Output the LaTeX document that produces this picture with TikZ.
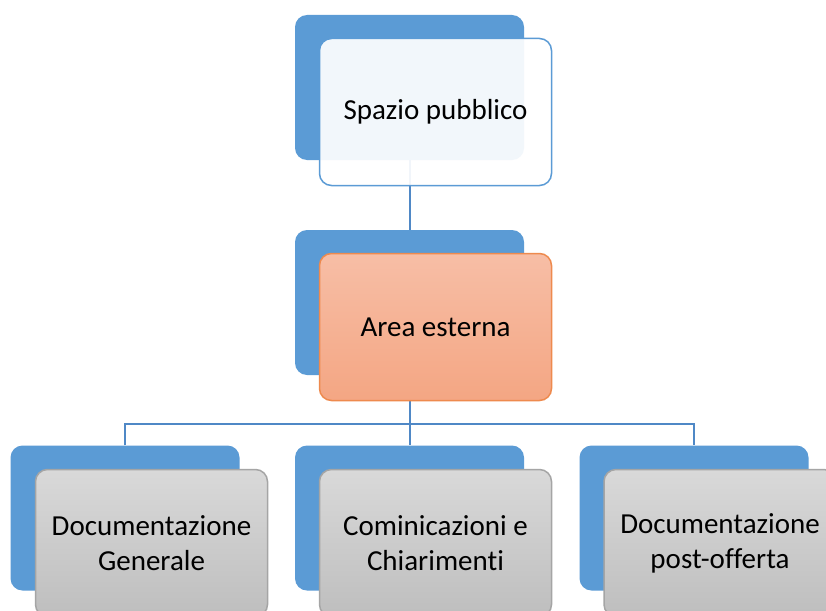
\documentclass[tikz,border=0pt]{standalone}
\usepackage{fontspec}
\setmainfont[Ligatures={NoCommon}]{Carlito}
\definecolor{accblue}{HTML}{5B9BD5}
\definecolor{linkblue}{HTML}{4F88C6}
\definecolor{orTop}{HTML}{F7BEA6}
\definecolor{orBot}{HTML}{F4A683}
\definecolor{orLine}{HTML}{EE8A4E}
\definecolor{grTop}{HTML}{D9D9D9}
\definecolor{grBot}{HTML}{BEBEBE}
\definecolor{grLine}{HTML}{A5A5A5}
\tikzset{
  backbox/.style={rectangle, rounded corners=12pt, fill=accblue, draw=none,
    minimum width=229pt, minimum height=145pt, inner sep=0pt},
  frontbox/.style={rectangle, rounded corners=12pt, line width=1.5pt,
    minimum width=232pt, minimum height=147pt, inner sep=0pt,
    align=center, font=\fontsize{29}{35}\selectfont},
  topbox/.style={frontbox, draw=accblue, fill=white, fill opacity=0.92, text opacity=1},
  midbox/.style={frontbox, draw=orLine, top color=orTop, bottom color=orBot},
  leafbox/.style={frontbox, draw=grLine, top color=grTop, bottom color=grBot},
  link/.style={draw=linkblue, line width=2pt}
}
\begin{document}
\begin{tikzpicture}[x=1pt,y=-1pt]
\fill[white] (0,0) rectangle (826,610);
\useasboundingbox (0,0) rectangle (826,610);
\clip (0,0) rectangle (826,610);
% back boxes
\node[backbox] (tb) at (409.5,87.5) {};
\node[backbox] (mb) at (409.5,302.5) {};
\node[backbox] (lb) at (125,518) {};
\node[backbox] (cb) at (409.5,518) {};
\node[backbox] (rb) at (694,518) {};
% connectors
\coordinate (bus) at (409.5,424);
\draw[link] (tb.south) -- (mb.north);
\draw[link] (mb.south) -- (cb.north);
\draw[link] (lb.north) -- (lb.north |- bus) -- (rb.north |- bus) -- (rb.north);
% front boxes
\node[topbox] (tf) at (435.5,112) {Spazio pubblico};
\node[midbox] (mf) at (435.5,327) {Area esterna};
\node[leafbox] (lf) at (151.5,543) {Documentazione\\Generale};
\node[leafbox] (cf) at (435.5,543) {Cominicazioni e\\Chiarimenti};
\node[leafbox] (rf) at (720,543) {Documentazione\\post-offerta};
\end{tikzpicture}
\end{document}
